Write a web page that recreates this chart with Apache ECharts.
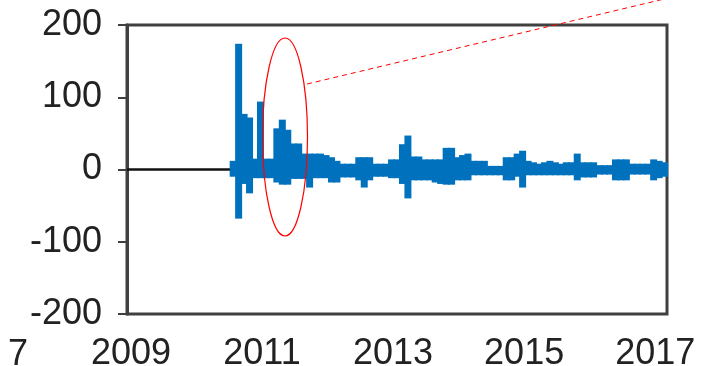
<!DOCTYPE html>
<html>
<head>
<meta charset="utf-8">
<script src="https://cdn.jsdelivr.net/npm/echarts@6/dist/echarts.min.js"></script>
<style>
  html, body { margin: 0; padding: 0; background: #fff; }
  #chart { width: 702px; height: 366px; }
</style>
</head>
<body>
<div id="chart"></div>
<script>
// x axis runs in decimal years
const xMin = 2008.94
const xMax = 2017.18
const yearTicks = [2009, 2011, 2013, 2015, 2017]
const yTicks = [-200, -100, 0, 100, 200]

// monthly samples, first one in mid 2010
const start = 2010.56
// top and bottom of the blue band, month by month
const hi = [
  12, 174, 77, 72, 15, 94, 15, 15, 57, 69,
  55, 36, 36, 22, 22, 22, 22, 20, 17, 12,
  8, 8, 8, 17, 17, 17, 8, 8, 8, 14,
  14, 35, 47, 18, 18, 14, 14, 14, 14, 30,
  30, 17, 20, 22, 12, 12, 12, 5, 5, 5,
  17, 17, 22, 26, 12, 10, 8, 10, 12, 10,
  8, 10, 10, 22, 10, 10, 10, 6, 6, 6,
  14, 14, 14, 8, 8, 8, 8, 14, 12, 10
]
const lo = [
  -10, -68, -20, -33, -12, -12, -12, -12, -18, -21,
  -21, -13, -13, -13, -25, -12, -12, -12, -18, -18,
  -11, -11, -11, -15, -25, -15, -10, -10, -10, -12,
  -12, -20, -40, -15, -15, -15, -15, -18, -20, -21,
  -21, -15, -15, -15, -8, -8, -8, -8, -8, -8,
  -15, -15, -10, -25, -8, -8, -8, -8, -8, -8,
  -8, -8, -8, -15, -11, -11, -11, -7, -7, -7,
  -15, -15, -15, -7, -7, -7, -7, -15, -12, -10
]

const blue = '#0072BD'
const months = hi.map((v, i) => start + i / 12)
const last = months[months.length - 1]

const chart = echarts.init(document.getElementById('chart'))
chart.setOption({
  animation: false,
  grid: {
    left: 127,
    right: 35,
    top: 25,
    bottom: 52,
    outerBoundsMode: 'none',
    show: true,
    borderColor: '#404040',
    borderWidth: 3,
    backgroundColor: '#fff'
  },
  xAxis: {
    type: 'value',
    min: xMin,
    max: xMax,
    splitLine: { show: false },
    axisLine: { show: false },
    axisTick: { show: false },
    axisLabel: {
      customValues: yearTicks,
      formatter: v => String(Math.round(v)),
      fontFamily: 'Liberation Sans, Arial, sans-serif',
      fontSize: 36,
      color: '#222',
      margin: 22
    }
  },
  yAxis: {
    type: 'value',
    min: -200,
    max: 200,
    interval: 100,
    splitLine: { show: false },
    axisLine: { show: true, lineStyle: { color: '#404040', width: 3 } },
    axisTick: {
      show: true,
      length: 9,
      customValues: yTicks,
      lineStyle: { color: '#404040', width: 2 }
    },
    axisLabel: {
      fontFamily: 'Liberation Sans, Arial, sans-serif',
      fontSize: 36,
      color: '#222',
      margin: 25
    }
  },
  series: [
    {
      type: 'line',
      data: [[xMin, 0], [start, 0]],
      symbol: 'none',
      lineStyle: { color: '#111', width: 2.5 },
      z: 1
    },
    {
      type: 'bar',
      data: months.map((m, i) => [m, hi[i]]),
      barWidth: 7,
      barGap: '-100%',
      itemStyle: { color: blue },
      z: 2
    },
    {
      type: 'bar',
      data: months.map((m, i) => [m, lo[i]]),
      barWidth: 7,
      barGap: '-100%',
      itemStyle: { color: blue },
      z: 2
    },
    {
      // core of the band, hides the seam at zero
      type: 'line',
      data: [[start - 0.03, 0], [last + 0.03, 0]],
      symbol: 'none',
      lineStyle: { color: blue, width: 4 },
      z: 3
    }
  ],
  graphic: [
    {
      type: 'text',
      left: 8,
      top: 337,
      style: {
        text: '7',
        font: '36px Liberation Sans, Arial, sans-serif',
        fill: '#222'
      }
    },
    {
      type: 'ellipse',
      shape: { cx: 285, cy: 137, rx: 22.5, ry: 99 },
      style: { fill: 'none', stroke: '#ff0000', lineWidth: 1.2 },
      z: 10
    },
    {
      type: 'line',
      shape: { x1: 307, y1: 84, x2: 702, y2: -10 },
      style: { stroke: '#ff0000', lineWidth: 1, lineDash: [5, 4] },
      z: 10
    }
  ]
})
</script>
</body>
</html>
